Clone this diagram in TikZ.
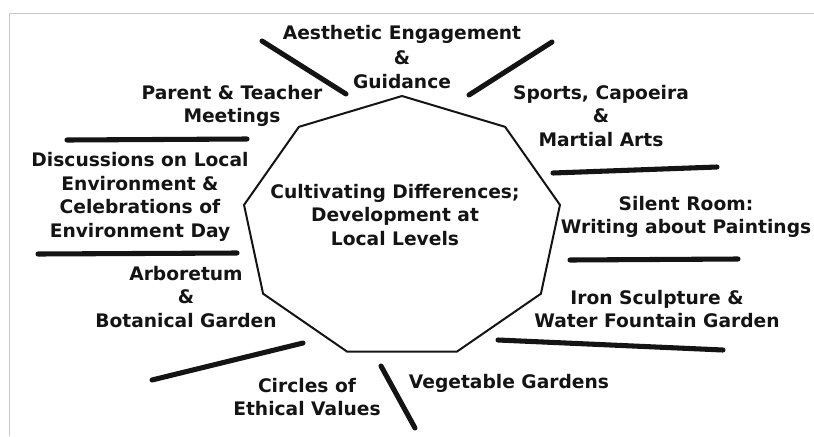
\documentclass[tikz,border=0pt]{standalone}
\usepackage{fontspec}
\setsansfont{DejaVu Sans}
\definecolor{cframe}{HTML}{C8C8C8}
\definecolor{cink}{HTML}{141414}
\tikzset{
  every picture/.style={font=\sffamily\bfseries\fontsize{14}{17.6}\selectfont, line width=1.5pt},
  topic/.style={align=center, text=cink, inner sep=0pt},
  bar/.style={draw=cink, line width=3.8pt, line cap=round},
}

\begin{document}
\begin{tikzpicture}[x=0.75pt, y=-0.75pt]
  \useasboundingbox (0,0) rectangle (814,436);
  \draw[cframe, line width=0.75pt] (814,13) -- (9,13) -- (9,436);

  % stretched nine-sided hub
  \foreach \k in {0,...,8}
    \coordinate (v\k) at ({402+160.4*cos(90+40*\k)}, {227.8-131.8*sin(90+40*\k)});
  \draw[cink, line join=miter] (v0) -- (v1) -- (v2) -- (v3) -- (v4) -- (v5) -- (v6) -- (v7) -- (v8) -- cycle;
  \node[topic] (hub) at (395,215) {Cultivating Differences;\\Development at\\Local Levels};

  \node[topic, text depth=0pt] (aesthetic) at (402,57) {Aesthetic Engagement\\[1pt]\&\\[1pt]Guidance};
  \node[topic] (sports) at (601,116) {Sports, Capoeira\\\&\\Martial Arts};
  \node[topic] (silent) at (686,217) {Silent Room:\\Writing about Paintings};
  \node[topic] (iron) at (657,309) {Iron Sculpture \&\\Water Fountain Garden};
  \node[topic] (vegetable) at (509,383) {Vegetable Gardens};
  \node[topic] (ethics) at (307,397) {Circles of\\Ethical Values};
  \node[topic] (arboretum) at (186,297) {Arboretum\\\&\\Botanical Garden};
  \node[topic] (discuss) at (140,197) {Discussions on Local\\Environment \&\\Celebrations of\\Environment Day};
  \node[topic] (parents) at (232,106) {Parent \& Teacher\\Meetings};

  % separators between the topics
  \foreach \xa/\ya/\xb/\yb in {262/41/346/94, 552/42/469/95, 553/173/717/167, 570/260/738/259,
      498/340/723/350, 381/366/415/428, 152/380/303/343, 38/254/237/253, 67/140/247/139}
    \draw[bar] (\xa,\ya) -- (\xb,\yb);
\end{tikzpicture}
\end{document}
